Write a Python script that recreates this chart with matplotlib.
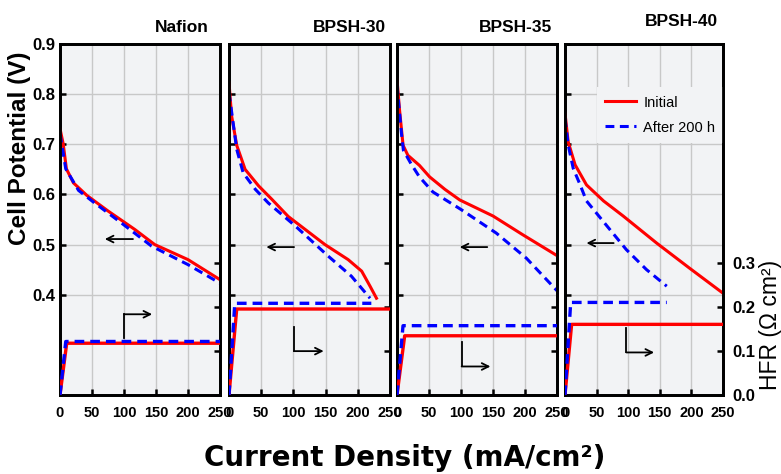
"""Polarization curves and HFR before/after 200 h for four membranes"""
import matplotlib

matplotlib.use("Agg")
import matplotlib.pyplot as plt  # noqa: E402
from matplotlib import font_manager  # noqa: E402

# ---- data --------------------------------------------------------------------
panel_names = ["Nafion", "BPSH-30", "BPSH-35", "BPSH-40"]
series_labels = ["Initial", "After 200 h"]

# polarization curves, current density (mA/cm2) and cell potential (V)
nafion_j_init = [0, 5, 10, 21, 42, 75, 117, 148, 200, 250]
nafion_v_init = [0.731, 0.701, 0.651, 0.623, 0.598, 0.567, 0.530, 0.500, 0.470, 0.430]
nafion_j_aged = [0, 4, 9, 29, 52, 96, 143, 200, 250]
nafion_v_aged = [0.721, 0.690, 0.651, 0.608, 0.585, 0.543, 0.497, 0.460, 0.423]

bpsh30_j_init = [0, 4, 12, 25, 46, 66, 92, 149, 185, 206, 219, 229]
bpsh30_v_init = [0.823, 0.757, 0.698, 0.650, 0.617, 0.591, 0.556, 0.500, 0.470, 0.447, 0.417, 0.393]
bpsh30_j_aged = [0, 7, 12, 22, 41, 61, 103, 154, 190, 219]
bpsh30_v_aged = [0.803, 0.737, 0.690, 0.643, 0.610, 0.583, 0.537, 0.477, 0.437, 0.393]

bpsh35_j_init = [0, 4, 9.5, 17, 35, 51, 75, 98, 150, 196, 250]
bpsh35_v_init = [0.829, 0.768, 0.698, 0.678, 0.658, 0.635, 0.610, 0.589, 0.557, 0.520, 0.478]
bpsh35_j_aged = [0, 7, 10, 22, 35, 56, 100, 155, 202, 250]
bpsh35_v_aged = [0.818, 0.721, 0.688, 0.661, 0.635, 0.605, 0.570, 0.523, 0.473, 0.408]

bpsh40_j_init = [0, 5, 16, 34, 61, 92, 145, 197, 250]
bpsh40_v_init = [0.762, 0.705, 0.659, 0.619, 0.587, 0.557, 0.503, 0.453, 0.403]
bpsh40_j_aged = [0, 5, 13, 24, 34, 71, 97, 129, 161]
bpsh40_v_aged = [0.752, 0.699, 0.652, 0.619, 0.587, 0.530, 0.490, 0.450, 0.417]

# high frequency resistance (Ohm cm2)
nafion_hfr_j_init = [0, 10.5, 250]
nafion_hfr_init = [0, 0.118, 0.118]
nafion_hfr_j_aged = [0, 9, 250]
nafion_hfr_aged = [0, 0.122, 0.122]

bpsh30_hfr_j_init = [0, 12, 250]
bpsh30_hfr_init = [0, 0.196, 0.196]
bpsh30_hfr_j_aged = [0, 9, 221]
bpsh30_hfr_aged = [0, 0.209, 0.209]

bpsh35_hfr_j_init = [0, 12, 250]
bpsh35_hfr_init = [0, 0.135, 0.135]
bpsh35_hfr_j_aged = [0, 9.4, 250]
bpsh35_hfr_aged = [0, 0.158, 0.158]

bpsh40_hfr_j_init = [0, 10.5, 250]
bpsh40_hfr_init = [0, 0.161, 0.161]
bpsh40_hfr_j_aged = [0, 9, 161]
bpsh40_hfr_aged = [0, 0.211, 0.211]

# axis ticks
j_ticks = [0, 50, 100, 150, 200, 250]
v_ticks = [0.4, 0.5, 0.6, 0.7, 0.8, 0.9]
hfr_ticks = [0.0, 0.1, 0.2, 0.3]

# pointer arrows: (start j, end j, V) toward the left axis
left_arrows = [(114, 70, 0.511), (101, 58, 0.495), (141, 98, 0.495), (77, 34, 0.503)]
# elbow arrows toward the right axis: (j, HFR start, HFR corner, end j)
right_arrows = [
    (100, 0.129, 0.184, 144),
    (101, 0.156, 0.100, 147),
    (101, 0.120, 0.065, 146),
    (97, 0.152, 0.097, 141),
]

# ---- styling ----------------------------------------------------------------
W, H = 781, 474
RED = "#ff0000"
BLUE = "#0000ff"
BG = "#f2f3f5"
DASH = (0, (2.9, 1.8))

installed = {f.name for f in font_manager.fontManager.ttflist}
NARROW = "Liberation Sans Narrow" if "Liberation Sans Narrow" in installed else "Liberation Sans"
plt.rcParams["font.family"] = [NARROW, "DejaVu Sans"]

# axes placement in pixels (left, width); all share top/bottom
panel_left = [60, 229, 397, 565]
panel_width = [160, 161, 160, 158]
PANEL_TOP, PANEL_BOTTOM = 44, 395
title_x = [0.76, 0.75, 0.74, 0.74]
title_y = [1.048, 1.048, 1.048, 1.065]

polarization = [
    (nafion_j_init, nafion_v_init, nafion_j_aged, nafion_v_aged),
    (bpsh30_j_init, bpsh30_v_init, bpsh30_j_aged, bpsh30_v_aged),
    (bpsh35_j_init, bpsh35_v_init, bpsh35_j_aged, bpsh35_v_aged),
    (bpsh40_j_init, bpsh40_v_init, bpsh40_j_aged, bpsh40_v_aged),
]
resistance = [
    (nafion_hfr_j_init, nafion_hfr_init, nafion_hfr_j_aged, nafion_hfr_aged),
    (bpsh30_hfr_j_init, bpsh30_hfr_init, bpsh30_hfr_j_aged, bpsh30_hfr_aged),
    (bpsh35_hfr_j_init, bpsh35_hfr_init, bpsh35_hfr_j_aged, bpsh35_hfr_aged),
    (bpsh40_hfr_j_init, bpsh40_hfr_init, bpsh40_hfr_j_aged, bpsh40_hfr_aged),
]


def arrow(axis, start, end):
    """Thin black pointer arrow"""
    axis.annotate(
        "",
        xy=end,
        xytext=start,
        arrowprops=dict(arrowstyle="->", lw=1.3, color="black",
                        shrinkA=0, shrinkB=0, mutation_scale=12),
    )


def make_panel(fig, idx):
    """Draw one membrane panel with polarization (left) and HFR (right)"""
    left = panel_left[idx] / W
    bottom = (H - PANEL_BOTTOM) / H
    ax = fig.add_axes([left, bottom, panel_width[idx] / W, (PANEL_BOTTOM - PANEL_TOP) / H])
    ax.set_facecolor(BG)
    ax2 = ax.twinx()

    j_i, v_i, j_a, v_a = polarization[idx]
    line_i, = ax.plot(j_i, v_i, color=RED, lw=2.2, label=series_labels[0], zorder=3)
    line_a, = ax.plot(j_a, v_a, color=BLUE, lw=2.2, ls=DASH, label=series_labels[1], zorder=4)

    hj_i, h_i, hj_a, h_a = resistance[idx]
    ax2.plot(hj_i, h_i, color=RED, lw=2.4, zorder=3)
    ax2.plot(hj_a, h_a, color=BLUE, lw=2.4, ls=DASH, zorder=4)

    ax.set_xlim(0, 250)
    ax.set_ylim(0.2, 0.9)
    ax2.set_ylim(0, 0.8)

    ax.set_axisbelow(True)
    ax.grid(True, color="#c8c8c8", lw=1.0)

    ax.set_xticks(j_ticks, labels=[str(t) for t in j_ticks], fontsize=10.5, fontweight="bold")
    ax.set_yticks(v_ticks, labels=[f"{t:.1f}" for t in v_ticks], fontsize=12, fontweight="bold")
    ax2.set_yticks(hfr_ticks, labels=[f"{t:.1f}" for t in hfr_ticks], fontsize=12, fontweight="bold")

    ax.tick_params(axis="both", direction="in", length=4, width=1.8,
                   top=False, right=False, color="black")
    ax.tick_params(axis="x", pad=8)
    ax.tick_params(axis="y", pad=3, labelleft=(idx == 0))
    ax2.tick_params(axis="y", direction="in", length=4, width=1.8, pad=7,
                    labelright=(idx == len(panel_names) - 1))

    for axis in (ax, ax2):
        for spine in axis.spines.values():
            spine.set_linewidth(2.0)

    ax.text(title_x[idx], title_y[idx], panel_names[idx], transform=ax.transAxes,
            ha="center", va="center", fontsize=12.5, fontweight="bold")

    # arrows pointing at the relevant axis
    x0, x1, v = left_arrows[idx]
    arrow(ax, (x0, v), (x1, v))
    xj, h0, h1, xe = right_arrows[idx]
    ax2.plot([xj, xj], [h0, h1], color="black", lw=1.3)
    arrow(ax2, (xj, h1), (xe, h1))

    return ax, line_i, line_a


def main():
    """Build the figure and save it"""
    fig = plt.figure(figsize=(W / 100, H / 100), dpi=100)
    fig.patch.set_facecolor("white")

    for idx in range(len(panel_names)):
        ax, line_i, line_a = make_panel(fig, idx)

    # legend sits in the last panel
    ax.legend(
        handles=[line_i, line_a],
        loc="upper left",
        bbox_to_anchor=(0.2, 0.878),
        borderaxespad=0,
        frameon=True,
        fancybox=False,
        facecolor=BG,
        edgecolor="none",
        framealpha=1,
        fontsize=10.5,
        handlelength=2.1,
        handletextpad=0.5,
        labelspacing=0.75,
        borderpad=0.6,
    )

    fig.text(20 / W, 1 - 148 / H, "Cell Potential (V)", rotation=90, ha="center",
             va="center", fontsize=17.5, fontweight="bold", family="Liberation Sans")
    fig.text(405 / W, 1 - 458 / H, "Current Density (mA/cm²)", ha="center",
             va="center", fontsize=20, fontweight="bold", family="DejaVu Sans")
    fig.text(771 / W, 1 - 325 / H, "HFR (Ω cm²)", rotation=90, ha="center",
             va="center", fontsize=16.5, family="Liberation Sans")

    fig.savefig("out.png", dpi=100)


if __name__ == "__main__":
    main()
